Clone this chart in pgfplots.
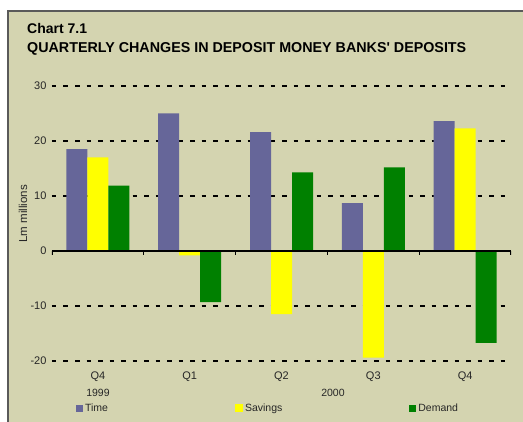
\documentclass[border=0pt]{standalone}
\usepackage{fontspec}
\setmainfont{Liberation Sans}
\newfontfamily\titlefont{Liberation Sans}
\usepackage{pgfplots}
\pgfplotsset{compat=1.18}
\definecolor{bg}{RGB}{212,212,176}
\definecolor{framec}{RGB}{90,90,90}
\definecolor{timec}{HTML}{666699}
\definecolor{savc}{HTML}{FFFF00}
\definecolor{demc}{HTML}{008000}

\begin{document}
\begin{tikzpicture}[x=1pt,y=1pt]
\path[use as bounding box, fill=white] (0,0) rectangle (523,422);
\fill[bg] (8,0) rectangle (523,411);
\draw[framec, line width=2pt] (8,0) -- (8,411) -- (523,411);
\node[anchor=base west, inner sep=0, font=\titlefont\bfseries\fontsize{14}{16}\selectfont] at (27,388) {Chart 7.1};
\node[anchor=base west, inner sep=0, font=\titlefont\bfseries\fontsize{14.3}{16}\selectfont] at (27,369) {QUARTERLY CHANGES IN DEPOSIT MONEY BANKS' DEPOSITS};

\begin{axis}[
  at={(52pt,61pt)}, anchor=south west,
  scale only axis, width=459pt, height=275pt,
  xmin=-0.5, xmax=4.5, ymin=-20, ymax=30,
  ybar=0pt, bar width=21pt,
  axis line style={draw=none},
  major tick length=0pt,
  ytick={-20,-10,0,10,20,30},
  yticklabels={-20,-10,0,10,20,30},
  xtick={0,1,2,3,4},
  xticklabels={Q4,Q1,Q2,Q3,Q4},
  ymajorgrids,
  grid style={black, line width=2.5pt, dash pattern=on 4.5pt off 7pt},
  tick label style={font=\fontsize{11}{13}\selectfont, text=black!85},
  yticklabel style={xshift=-2pt},
  xticklabel style={yshift=-7pt},
  ylabel={Lm millions},
  ylabel style={at={(axis description cs:-0.063,0.535)}, anchor=center, font=\fontsize{11.5}{13}\selectfont, text=black!85},
  legend columns=3,
  legend style={at={(axis description cs:0.052,-0.171)}, anchor=west,
    draw=none, fill=none, inner sep=0pt,
    nodes={inner sep=0pt, font=\fontsize{10.5}{12}\selectfont, text=black!85},
    /tikz/every odd column/.append style={column sep=2pt},
    /tikz/every even column/.append style={column sep=127pt}},
]
\addplot[fill=timec, draw=none, legend image code/.code={\fill[timec] (0pt,-3.5pt) rectangle (7pt,3.5pt);}]
  coordinates {(0,18.5) (1,25.0) (2,21.6) (3,8.7) (4,23.6)};
\addlegendentry{Time}
\addplot[fill=savc, draw=none, legend image code/.code={\fill[savc] (0pt,-4pt) rectangle (8pt,4pt);}]
  coordinates {(0,17.0) (1,-0.8) (2,-11.5) (3,-19.4) (4,22.3)};
\addlegendentry{Savings}
\addplot[fill=demc, draw=none, legend image code/.code={\fill[demc] (0pt,-3.5pt) rectangle (7pt,3.5pt);}]
  coordinates {(0,11.9) (1,-9.3) (2,14.3) (3,15.2) (4,-16.7)};
\addlegendentry{Demand}
\draw[black, line width=2pt] (axis cs:-0.5,0) -- (axis cs:4.5,0);
\draw[black, line width=1.3pt] (axis cs:-0.5,0) -- ++(0pt,-4pt);
\draw[black, line width=1.3pt] (axis cs:0.5,0) -- ++(0pt,-4pt);
\draw[black, line width=1.3pt] (axis cs:1.5,0) -- ++(0pt,-4pt);
\draw[black, line width=1.3pt] (axis cs:2.5,0) -- ++(0pt,-4pt);
\draw[black, line width=1.3pt] (axis cs:3.5,0) -- ++(0pt,-4pt);
\draw[black, line width=1.3pt] (axis cs:4.5,0) -- ++(0pt,-4pt);
\end{axis}
\node[font=\fontsize{10.5}{12}\selectfont, text=black!85] at (98,29) {1999};
\node[font=\fontsize{10.5}{12}\selectfont, text=black!85] at (333,29) {2000};
\end{tikzpicture}
\end{document}
